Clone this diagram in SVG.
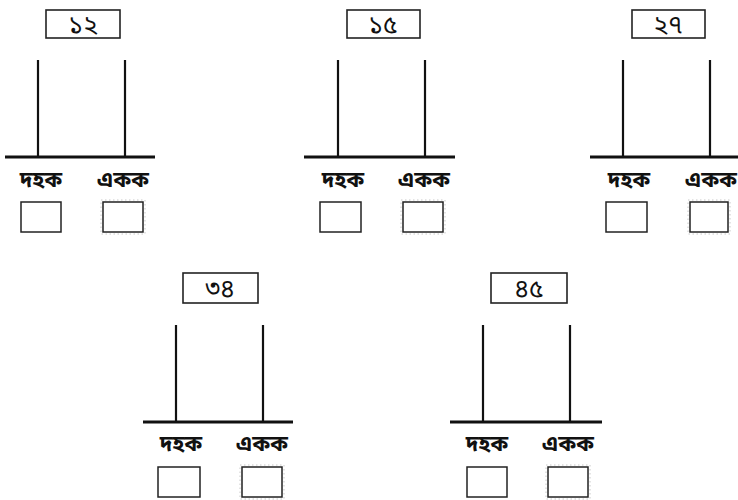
<svg xmlns="http://www.w3.org/2000/svg" width="738" height="500" viewBox="0 0 738 500">
<style>
.nb{fill:#fff;stroke:#222;stroke-width:1.6}
.num{font-family:"Noto Sans Bengali","Noto Serif Bengali","Lohit Bengali","Noto Sans",sans-serif;font-size:25px;font-weight:normal;fill:#111;text-anchor:middle}
.lbl{font-family:"Noto Sans Bengali","Noto Serif Bengali","Lohit Bengali","Noto Sans",sans-serif;font-size:22px;font-weight:bold;fill:#111;text-anchor:middle}
.post{stroke:#111;stroke-width:2.2}
.base{stroke:#111;stroke-width:3}
.ab{fill:#fff;stroke:#222;stroke-width:1.5}
.hd{fill:none;stroke:#bbb;stroke-width:0.8;stroke-dasharray:1.5 2.5}
</style>
<rect width="738" height="500" fill="#fff"/>
<g id="abacus-12">
<rect class="nb" x="46" y="10" width="74" height="28"/>
<text class="num" x="83" y="33">১২</text>
<line class="post" x1="38" y1="60" x2="38" y2="157"/>
<line class="post" x1="125" y1="60" x2="125" y2="157"/>
<line class="base" x1="5" y1="157" x2="155" y2="157"/>
<text class="lbl" x="41" y="187">দহক</text>
<text class="lbl" x="123" y="187">একক</text>
<rect class="ab" x="21" y="202" width="40" height="30"/>
<rect class="ab" x="103" y="202" width="40" height="30"/>
<rect class="hd" x="101" y="200" width="44" height="34"/>
</g>
<g id="abacus-15">
<rect class="nb" x="347" y="10" width="73" height="28"/>
<text class="num" x="383" y="33">১৫</text>
<line class="post" x1="338" y1="60" x2="338" y2="157"/>
<line class="post" x1="425" y1="60" x2="425" y2="157"/>
<line class="base" x1="304" y1="157" x2="455" y2="157"/>
<text class="lbl" x="343" y="187">দহক</text>
<text class="lbl" x="424" y="187">একক</text>
<rect class="ab" x="320" y="202" width="41" height="30"/>
<rect class="ab" x="403" y="202" width="40" height="30"/>
<rect class="hd" x="401" y="200" width="44" height="34"/>
</g>
<g id="abacus-27">
<rect class="nb" x="632" y="10" width="73" height="28"/>
<text class="num" x="668" y="33">২৭</text>
<line class="post" x1="623" y1="60" x2="623" y2="157"/>
<line class="post" x1="710" y1="60" x2="710" y2="157"/>
<line class="base" x1="590" y1="157" x2="738" y2="157"/>
<text class="lbl" x="629" y="187">দহক</text>
<text class="lbl" x="711" y="187">একক</text>
<rect class="ab" x="606" y="202" width="41" height="30"/>
<rect class="ab" x="690" y="202" width="38" height="30"/>
<rect class="hd" x="688" y="200" width="42" height="34"/>
</g>
<g id="abacus-34">
<rect class="nb" x="183" y="273" width="75" height="30"/>
<text class="num" x="220" y="297">৩৪</text>
<line class="post" x1="176" y1="325" x2="176" y2="422"/>
<line class="post" x1="263" y1="325" x2="263" y2="422"/>
<line class="base" x1="143" y1="422" x2="293" y2="422"/>
<text class="lbl" x="181" y="451">দহক</text>
<text class="lbl" x="262" y="451">একক</text>
<rect class="ab" x="158" y="467" width="42" height="30"/>
<rect class="ab" x="242" y="467" width="40" height="30"/>
<rect class="hd" x="240" y="465" width="44" height="34"/>
</g>
<g id="abacus-45">
<rect class="nb" x="491" y="273" width="76" height="30"/>
<text class="num" x="529" y="297">৪৫</text>
<line class="post" x1="483" y1="325" x2="483" y2="422"/>
<line class="post" x1="570" y1="325" x2="570" y2="422"/>
<line class="base" x1="450" y1="422" x2="602" y2="422"/>
<text class="lbl" x="487" y="451">দহক</text>
<text class="lbl" x="568" y="451">একক</text>
<rect class="ab" x="467" y="467" width="40" height="30"/>
<rect class="ab" x="548" y="467" width="40" height="30"/>
<rect class="hd" x="546" y="465" width="44" height="34"/>
</g>
</svg>
